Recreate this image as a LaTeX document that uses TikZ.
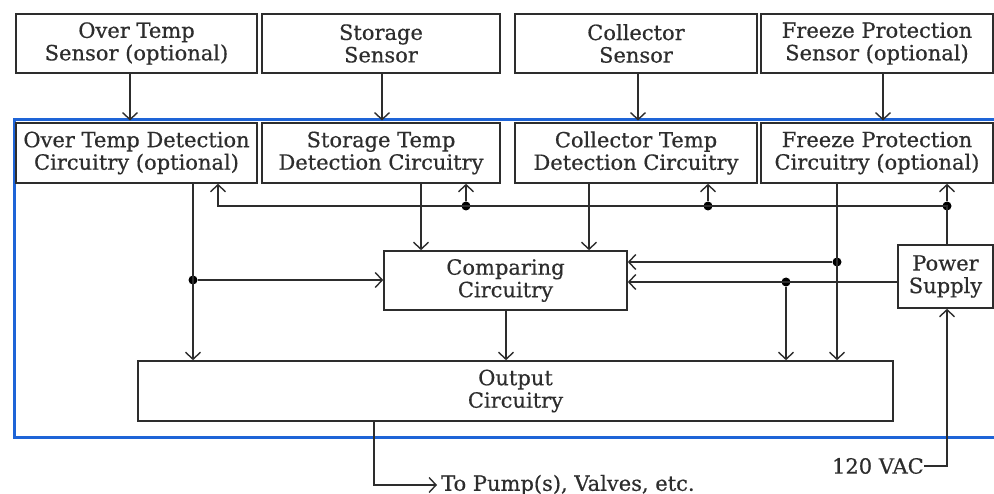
\documentclass[tikz,border=0pt]{standalone}
\usepackage{fontspec}
\setmainfont[FakeBold=0.5]{DejaVu Serif}
\usetikzlibrary{arrows.meta,calc}
\definecolor{framecol}{RGB}{30,100,215}
\definecolor{ink}{RGB}{45,45,45}

\begin{document}
\begin{tikzpicture}[x=1pt,y=-1pt,
  line/.style={draw=ink, line width=1.6pt},
  arr/.style={line, -{Straight Barb[length=7pt,width=15pt,line width=1.4pt]}},
  box/.style={line, fill=white, inner sep=0pt, align=center, text=ink,
              font=\fontsize{21}{22.5}\selectfont},
  dot/.style={circle, fill=black, inner sep=0pt, minimum size=9pt},
  frame/.style={draw=framecol, line width=3pt},
  lbl/.style={text=ink, font=\fontsize{21}{22.5}\selectfont, inner sep=0pt}
]
\useasboundingbox (0,0) rectangle (994,494);

% controller enclosure (open to the right)
\draw[frame] (996,120) -- (14,120) -- (14,437) -- (996,437);

% sensors
\node[box, minimum width=241pt, minimum height=59pt] (sA) at (136.5,43.5) {Over Temp\\Sensor (optional)};
\node[box, minimum width=238pt, minimum height=59pt] (sB) at (381,43.5) {Storage\\Sensor};
\node[box, minimum width=242pt, minimum height=59pt] (sC) at (636,43.5) {Collector\\Sensor};
\node[box, minimum width=232pt, minimum height=59pt] (sD) at (877,43.5) {Freeze Protection\\Sensor (optional)};

% detection stages
\node[box, minimum width=241pt, minimum height=60pt] (dA) at (136.5,153) {Over Temp Detection\\Circuitry (optional)};
\node[box, minimum width=238pt, minimum height=60pt] (dB) at (381,153) {Storage Temp\\Detection Circuitry};
\node[box, minimum width=242pt, minimum height=60pt] (dC) at (636,153) {Collector Temp\\Detection Circuitry};
\node[box, minimum width=232pt, minimum height=60pt] (dD) at (877,153) {Freeze Protection\\Circuitry (optional)};

% logic, power and output
\node[box, minimum width=243pt, minimum height=59pt] (cmp) at (505.5,280.5) {Comparing\\Circuitry};
\node[box, minimum width=95pt, minimum height=63pt] (ps) at (945.5,276.5) {Power\\Supply};
\node[box, minimum width=755pt, minimum height=60pt] (out) at (515.5,391) {Output\\Circuitry};

\node[lbl, anchor=west] (pump) at (441,485) {To Pump(s), Valves, etc.};
\node[lbl, anchor=east] (vac) at (924,466) {120 VAC};

% sensor inputs
\coordinate (ka) at (130,120.5);
\coordinate (kb) at (382,120.5);
\coordinate (kc) at (638,120.5);
\coordinate (kd) at (883,120.5);
\draw[arr] (sA.south -| ka) -- (ka);
\draw[arr] (sB.south -| kb) -- (kb);
\draw[arr] (sC.south -| kc) -- (kc);
\draw[arr] (sD.south -| kd) -- (kd);

% junctions
\node[dot] (jA) at (193,280) {};
\node[dot] (jD) at (837,262) {};
\node[dot] (jP) at (786,282) {};
\node[dot] (b1) at (466,206) {};
\node[dot] (b2) at (708,206) {};
\node[dot] (b3) at (947,206) {};
\coordinate (bw) at (218,206);

% supply bus to the detection stages
\draw[arr] (ps.north -| b3) |- (bw) -- (dA.south -| bw);
\draw[arr] (b1) -- (dB.south -| b1);
\draw[arr] (b2) -- (dC.south -| b2);
\draw[arr] (b3) -- (dD.south -| b3);

% over temp stage
\draw[arr] (dA.south -| jA) -- (out.north -| jA);
\draw[arr] (jA) -- (cmp.west |- jA);

% storage and collector stages
\coordinate (xb) at (421,0);
\coordinate (xc) at (589,0);
\draw[arr] (dB.south -| xb) -- (cmp.north -| xb);
\draw[arr] (dC.south -| xc) -- (cmp.north -| xc);

% freeze protection stage
\draw[arr] (dD.south -| jD) -- (out.north -| jD);
\draw[arr] (jD) -- (cmp.east |- jD);

% power supply feed
\draw[arr] (ps.west |- jP) -- (cmp.east |- jP);
\draw[arr] (jP) -- (out.north -| jP);

% comparator to output
\coordinate (xo) at (506,0);
\draw[arr] (cmp.south -| xo) -- (out.north -| xo);

% external connections
\coordinate (xp) at (374,0);
\draw[arr] (out.south -| xp) |- ([xshift=-4pt]pump.west);
\draw[arr] (vac.east) -| (ps.south -| b3);
\end{tikzpicture}
\end{document}
